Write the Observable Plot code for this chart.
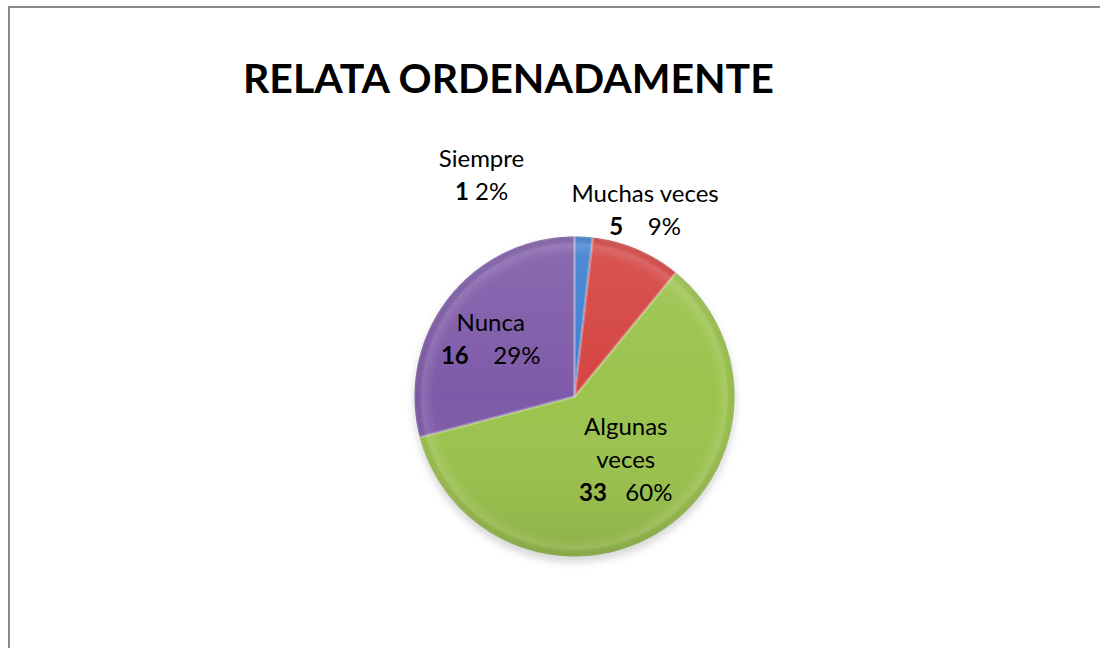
<!DOCTYPE html>
<html><head><meta charset="utf-8">
<script src="https://cdn.jsdelivr.net/npm/d3@7"></script>
<script src="https://cdn.jsdelivr.net/npm/@observablehq/plot@0.6"></script>
<style>
html,body{margin:0;background:#fff;overflow:hidden;}
#wrap{position:relative;width:1100px;height:648px;overflow:hidden;font-family:Lato,"Open Sans",sans-serif;background:#fff;}
#frameTop{position:absolute;left:8px;top:6px;width:1092px;height:2px;background:#8a8a8a;}
#frameLeft{position:absolute;left:8px;top:6px;width:2px;height:642px;background:#8a8a8a;}
#title{position:absolute;left:243px;top:57px;font:700 41px/41px Lato,sans-serif;white-space:nowrap;color:#000;}
#chart{position:absolute;left:0;top:0;}
</style></head><body>
<div id="wrap"><div id="frameTop"></div><div id="frameLeft"></div><div id="title">RELATA ORDENADAMENTE</div><div id="chart"></div></div>
<script>
// ---- data ----
const categories = ["Siempre", "Muchas veces", "Algunas veces", "Nunca"];
const values = [1, 5, 33, 16];
const labelNames = ["Siempre", "Muchas veces", "Algunas\nveces", "Nunca"];
const separators = [" ", "    ", "   ", "    "];
const colors = ["#3d7fd1", "#d44341", "#9bc34d", "#7e5ba8"];

// ---- layout (label placement: radial factor + offset, in pie-radius units) ----
const labelLayout = {
  "Siempre": {k: 1.38, ox: -0.66, oy: -0.02},
  "Muchas veces": {k: 1.25, ox: -0.045, oy: -0.03},
  "Algunas veces": {k: 0.5, ox: 0.05, oy: -0.04},
  "Nunca": {k: 0.63, ox: -0.025, oy: 0.01}
};

const total = d3.sum(values);
const arcs = d3.pie().sort(null).value(d => d)(values);
const step = Math.PI / 360;

const slicePts = [];
arcs.forEach((p, i) => {
  slicePts.push({cat: categories[i], x: 0, y: 0});
  const n = Math.max(2, Math.ceil((p.endAngle - p.startAngle) / step));
  for (let j = 0; j <= n; j++) {
    const a = p.startAngle + (p.endAngle - p.startAngle) * j / n;
    slicePts.push({cat: categories[i], x: Math.sin(a), y: -Math.cos(a)});
  }
});
const circlePts = d3.range(0, 720).map(j => {
  const a = j * step;
  return {x: Math.sin(a), y: -Math.cos(a)};
});

const labelData = arcs.map((p, i) => {
  const mid = (p.startAngle + p.endAngle) / 2;
  const L = labelLayout[categories[i]];
  return {
    cat: categories[i],
    x: L.k * Math.sin(mid) + L.ox,
    y: -L.k * Math.cos(mid) + L.oy,
    text: labelNames[i] + "\n" + values[i] + separators[i] + Math.round(values[i] / total * 100) + "%"
  };
});

const chart = Plot.plot({
  width: 1100,
  height: 648,
  margin: 0,
  x: {domain: [-1, 1], range: [414, 734], axis: null},
  y: {domain: [-1, 1], range: [236, 556], axis: null},
  color: {domain: categories, range: colors},
  style: {background: "transparent", overflow: "visible"},
  marks: [
    Plot.line(circlePts, {x: "x", y: "y", curve: "linear-closed", fill: "#000", fillOpacity: 0.18, stroke: "none", dy: 5, ariaDescription: "shadow"}),
    Plot.line(slicePts, {x: "x", y: "y", z: "cat", fill: "cat", stroke: "none", curve: "linear-closed"}),
    Plot.line(circlePts, {x: "x", y: "y", curve: "linear-closed", fill: "url(#vshade)", stroke: "none"}),
    Plot.line(circlePts, {x: "x", y: "y", curve: "linear-closed", fill: "url(#rshade)", stroke: "none"}),
    Plot.line(slicePts, {x: "x", y: "y", z: "cat", fill: "none", stroke: "#fff", strokeOpacity: 0.14, strokeWidth: 3, curve: "linear-closed"}),
    Plot.text(labelData, {x: "x", y: "y", text: "text", fontSize: 24, fontFamily: "Lato, sans-serif", fill: "#000", lineHeight: 1.375, ariaDescription: "labels"})
  ]
});

const svg = d3.select(chart);
svg.style("white-space", "pre");
const defs = svg.insert("defs", ":first-child");
const lg = defs.append("linearGradient").attr("id", "vshade").attr("x1", 0).attr("y1", 0).attr("x2", 0).attr("y2", 1);
lg.append("stop").attr("offset", 0).attr("stop-color", "#fff").attr("stop-opacity", 0.1);
lg.append("stop").attr("offset", 0.5).attr("stop-color", "#fff").attr("stop-opacity", 0);
lg.append("stop").attr("offset", 1).attr("stop-color", "#000").attr("stop-opacity", 0.1);
const rg = defs.append("radialGradient").attr("id", "rshade").attr("cx", 0.5).attr("cy", 0.5).attr("r", 0.5);
rg.append("stop").attr("offset", 0).attr("stop-color", "#fff").attr("stop-opacity", 0);
rg.append("stop").attr("offset", 0.88).attr("stop-color", "#fff").attr("stop-opacity", 0);
rg.append("stop").attr("offset", 0.95).attr("stop-color", "#fff").attr("stop-opacity", 0.12);
rg.append("stop").attr("offset", 0.985).attr("stop-color", "#000").attr("stop-opacity", 0.03);
rg.append("stop").attr("offset", 1).attr("stop-color", "#000").attr("stop-opacity", 0.15);
const blur = defs.append("filter").attr("id", "blur").attr("x", "-20%").attr("y", "-20%").attr("width", "140%").attr("height", "140%");
blur.append("feGaussianBlur").attr("stdDeviation", 4);
svg.selectAll("g[aria-description=shadow]").attr("filter", "url(#blur)");

svg.selectAll("g[aria-description=labels] text").each(function () {
  const t = d3.select(this);
  const spans = t.selectAll("tspan").nodes();
  const last = spans.length ? d3.select(spans[spans.length - 1]) : t;
  const m = last.text().match(/^(\d+)(\s+)(.*)$/);
  if (m) {
    last.text(null);
    last.append("tspan").attr("font-weight", "bold").text(m[1]);
    last.append("tspan").text(m[2] + m[3]);
  }
});

document.getElementById("chart").appendChild(chart);
</script>
</body></html>
